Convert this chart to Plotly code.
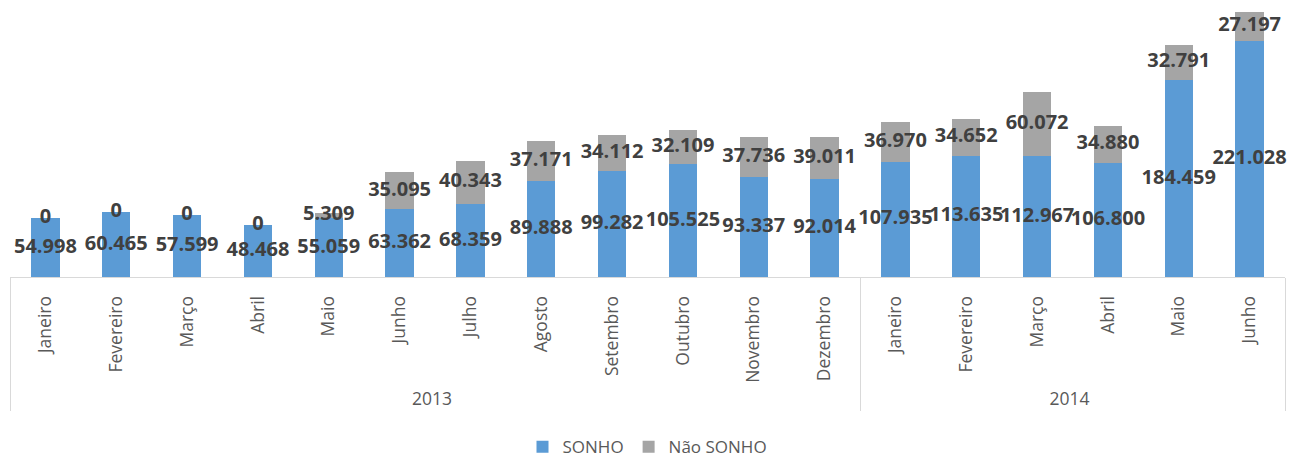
import plotly.graph_objects as go

years = ["2013"] * 12 + ["2014"] * 6
months = ["Janeiro", "Fevereiro", "Março", "Abril", "Maio", "Junho", "Julho",
          "Agosto", "Setembro", "Outubro", "Novembro", "Dezembro",
          "Janeiro", "Fevereiro", "Março", "Abril", "Maio", "Junho"]
sonho = [54998, 60465, 57599, 48468, 55059, 63362, 68359, 89888, 99282,
         105525, 93337, 92014, 107935, 113635, 112967, 106800, 184459, 221028]
nao_sonho = [0, 0, 0, 0, 5309, 35095, 40343, 37171, 34112, 32109, 37736,
             39011, 36970, 34652, 60072, 34880, 32791, 27197]

BLUE = "#5B9BD5"
GRAY = "#A5A5A5"
TXT = "#595959"
LBL = "#404040"
FONT = "Open Sans"


def fmt(v):
    return f"{v:,}".replace(",", ".")


x = [years, months]

fig = go.Figure()
fig.add_trace(go.Bar(x=x, y=sonho, name="SONHO", marker_color=BLUE,
                     marker_line_width=0))
fig.add_trace(go.Bar(x=x, y=nao_sonho, name="Não SONHO", marker_color=GRAY,
                     marker_line_width=0))

# data labels centred in each segment
mid_s = [v / 2 for v in sonho]
mid_n = [s + n / 2 for s, n in zip(sonho, nao_sonho)]
fig.add_trace(go.Scatter(x=x, y=mid_s, mode="text", text=[fmt(v) for v in sonho],
                         textfont=dict(family=FONT, size=20, color=LBL, weight="bold"),
                         showlegend=False, hoverinfo="skip", cliponaxis=False))
fig.add_trace(go.Scatter(x=x, y=mid_n, mode="text", text=[fmt(v) for v in nao_sonho],
                         textfont=dict(family=FONT, size=20, color=LBL, weight="bold"),
                         showlegend=False, hoverinfo="skip", cliponaxis=False))

fig.update_layout(
    width=1291, height=457,
    barmode="stack", bargap=0.6,
    plot_bgcolor="white", paper_bgcolor="white",
    margin=dict(l=10, r=6, t=10, b=180, autoexpand=False),
    font=dict(family=FONT, color=TXT),
    legend=dict(orientation="h", x=0.5, xanchor="center", y=-0.637, yanchor="middle",
                font=dict(family=FONT, size=17, color=TXT), traceorder="normal"),
    xaxis=dict(type="multicategory", showline=True, linecolor="#D9D9D9", linewidth=1,
               showdividers=True, dividercolor="#D9D9D9", dividerwidth=1,
               range=[-0.5, len(months) - 0.5], autorange=False,
               tickangle=-90, ticks="", ticklabelstandoff=11,
               tickfont=dict(family=FONT, size=17.5, color=TXT),
               showgrid=False, zeroline=False),
    yaxis=dict(visible=False, range=[0, 250000], fixedrange=True),
)

fig.write_html("out.html", config={"displayModeBar": False},
               post_script="document.body.style.margin='0';document.body.style.padding='0';")
